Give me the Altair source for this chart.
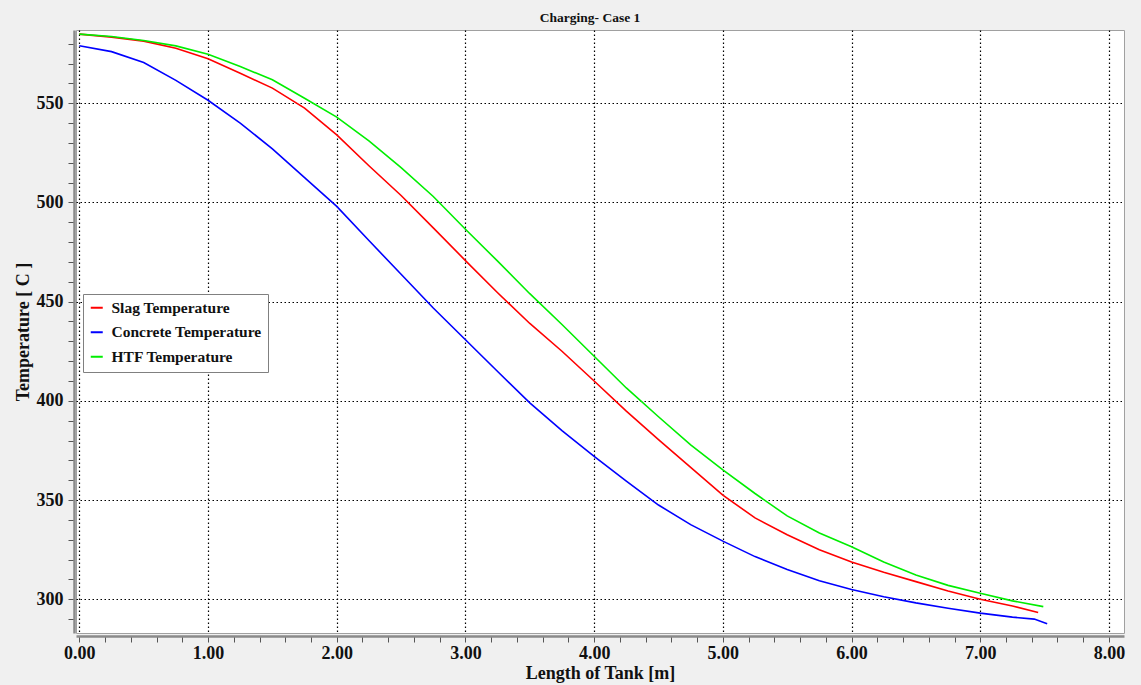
import altair as alt
import pandas as pd

# ---- data ----
x_common = [0.0, 0.25, 0.5, 0.75, 1.0, 1.25, 1.5, 1.75, 2.0, 2.25, 2.5, 2.75,
            3.0, 3.25, 3.5, 3.75, 4.0, 4.25, 4.5, 4.75, 5.0, 5.25, 5.5, 5.75,
            6.0, 6.25, 6.5, 6.75, 7.0, 7.25]

slag_x_end = [7.45]
slag = [584.8, 583.3, 581.3, 577.7, 572.4, 565.1, 557.6, 547.5, 534.0, 518.5,
        503.5, 487.2, 470.7, 454.5, 439.0, 425.0, 410.0, 394.8, 380.5, 366.5,
        352.5, 341.0, 332.5, 325.0, 318.8, 313.6, 308.9, 304.2, 300.0, 296.6]
slag_end = [293.3]

concrete_x_end = [7.42, 7.52]
concrete = [579.0, 576.0, 570.5, 561.5, 551.5, 540.0, 527.0, 512.5, 498.0, 480.8,
            463.8, 446.8, 430.8, 414.8, 399.0, 385.0, 372.0, 359.5, 347.5, 337.6,
            329.3, 321.5, 315.0, 309.3, 304.9, 301.3, 298.2, 295.5, 293.0, 291.0]
concrete_end = [290.0, 287.6]

htf_x_end = [7.49]
htf = [584.8, 583.6, 581.6, 578.9, 574.7, 568.5, 561.8, 552.5, 543.0, 531.0,
       517.5, 503.0, 486.5, 470.4, 454.0, 438.5, 422.5, 406.5, 392.0, 377.8,
       365.2, 353.3, 342.0, 333.4, 326.5, 318.8, 312.2, 307.0, 303.0, 299.2]
htf_end = [296.3]

series_names = ["Slag Temperature", "Concrete Temperature", "HTF Temperature"]
series_colors = ["#ff0000", "#0000ff", "#00ee00"]

x_ticks = [round(i * 0.2, 1) for i in range(0, 41)]
y_ticks = list(range(290, 590, 10))

rows = []
for name, xs, ys in [
    (series_names[0], x_common + slag_x_end, slag + slag_end),
    (series_names[1], x_common + concrete_x_end, concrete + concrete_end),
    (series_names[2], x_common + htf_x_end, htf + htf_end),
]:
    for i, (a, b) in enumerate(zip(xs, ys)):
        rows.append({"x": a, "y": b, "series": name, "order": i})
df = pd.DataFrame(rows)

FONT = "Liberation Serif"
is_major_x = "abs(datum.value - round(datum.value)) < 0.001"
is_major_y = "datum.value % 50 == 0"

x_axis = alt.Axis(
    values=x_ticks,
    title="Length of Tank [m]",
    labelExpr=f"{is_major_x} ? format(datum.value, '.2f') : ''",
    labelFont=FONT, labelFontSize=18, labelFontWeight="bold", labelColor="#111",
    titleFont=FONT, titleFontSize=18, titleFontWeight="bold", titleColor="#111",
    titlePadding=2,
    labelPadding=2, labelFlush=False, labelOverlap=False,
    tickSize=6, tickColor="#555", tickWidth=1,
    domainColor="#8a8a8a", domainWidth=2.5, offset=3,
    grid=True, gridColor="#000", gridDash=[1.5, 2.5], gridWidth=1.2,
    gridOpacity={"condition": {"test": is_major_x, "value": 1}, "value": 0},
)
y_axis = alt.Axis(
    values=y_ticks,
    title="Temperature [ C ]",
    labelExpr=f"{is_major_y} ? datum.label : ''",
    labelFont=FONT, labelFontSize=18, labelFontWeight="bold", labelColor="#111",
    titleFont=FONT, titleFontSize=18, titleFontWeight="bold", titleColor="#111",
    titlePadding=4,
    labelPadding=5, labelFlush=False, labelOverlap=False,
    tickSize=6, tickColor="#555", tickWidth=1,
    domainColor="#8a8a8a", domainWidth=2.5, offset=2,
    grid=True, gridColor="#000", gridDash=[1.5, 2.5], gridWidth=1.2,
    gridOpacity={"condition": {"test": is_major_y, "value": 1}, "value": 0},
)

chart = alt.Chart(df).mark_line(strokeWidth=1.6).encode(
    x=alt.X("x:Q", scale=alt.Scale(domain=[-0.026, 8.117], nice=False, zero=False), axis=x_axis),
    y=alt.Y("y:Q", scale=alt.Scale(domain=[283.0, 586.9], nice=False, zero=False), axis=y_axis),
    color=alt.Color(
        "series:N",
        scale=alt.Scale(domain=series_names, range=series_colors),
        legend=alt.Legend(
            title=None, orient="none", legendX=7, legendY=264,
            symbolType="stroke", symbolSize=144, symbolStrokeWidth=2,
            labelFont=FONT, labelFontSize=15.5, labelFontWeight="bold", labelColor="#111",
            labelOffset=7, rowPadding=7.5, padding=6,
            strokeColor="#808080", fillColor="white", cornerRadius=0,
        ),
    ),
    order="order:Q",
).properties(
    width=1048, height=603,
    title=alt.TitleParams(
        "Charging- Case 1", font=FONT, fontSize=13.5, fontWeight="bold",
        color="#111", anchor="middle", offset=6, dx=-10,
    ),
    autosize=alt.AutoSizeParams(type="none"),
    padding={"left": 76, "top": 30, "right": 17, "bottom": 52},
    background="#f0f0f0",
).configure_view(
    fill="white", stroke="#a0a0a0", strokeWidth=1,
)

chart.save("out.html", embed_options={"renderer": "svg", "actions": False})
